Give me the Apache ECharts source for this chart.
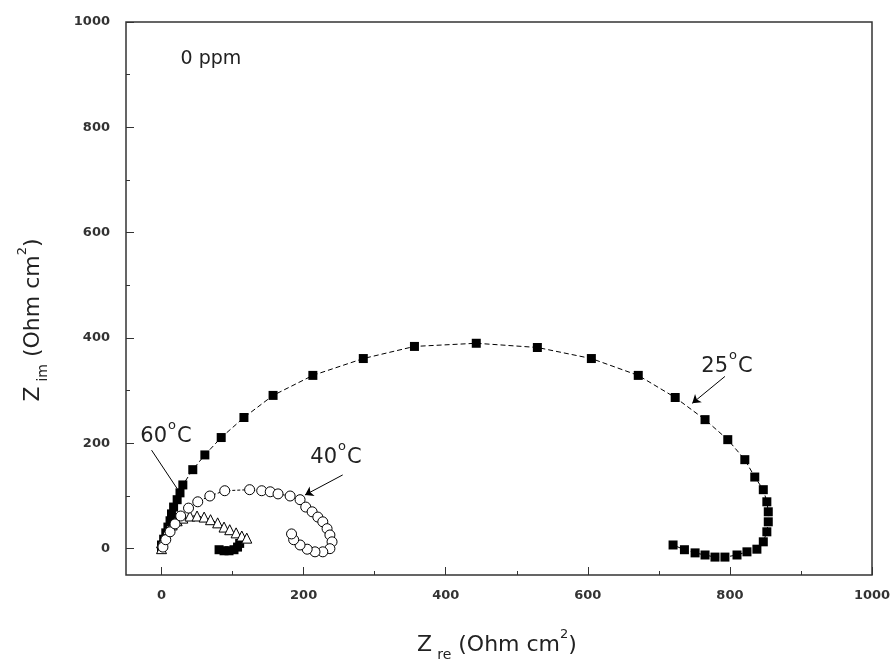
<!DOCTYPE html>
<html>
<head>
<meta charset="utf-8">
<script src="https://cdn.jsdelivr.net/npm/echarts@6/dist/echarts.min.js"></script>
<style>
  html, body { margin: 0; padding: 0; background: #fff; }
  #chart { width: 895px; height: 666px; }
</style>
</head>
<body>
<div id="chart"></div>
<script>
// ticks
const majorTicks = [0, 200, 400, 600, 800, 1000];
const minorTicks = [100, 300, 500, 700, 900];

// 25 C, filled squares
const sq25 = [[0,0],[0,7],[3,18],[6,30],[9,41],[12,53],[14,66],[17,79],[22,93],[26,106],[30,121],
  [44,150],[61,178],[84,211],[116,249],[157,291],[213,329],[284,361],[356,384],[443,390],[529,382],
  [605,361],[671,329],[723,287],[765,245],[797,207],[821,169],[835,136],[847,112],[852,89],[854,70],
  [854,51],[852,32],[847,13],[838,-1],[824,-6],[810,-12],[793,-16],[779,-16],[765,-12],[751,-8],
  [736,-2],[720,7]];
// small cluster of filled squares near 100
const sqLow = [[81,-2],[88,-4],[95,-4],[102,-2],[107,3],[110,10]];
// 40 C, open circles
const c40 = [[2,3],[6,17],[12,32],[19,47],[27,62],[38,77],[51,89],[68,100],[89,110],[124,112],
  [141,110],[153,108],[164,104],[181,100],[195,93],[203,79],[212,70],[220,60],[227,51],[233,38],
  [237,26],[240,13],[237,0],[227,-6],[216,-6],[205,-1],[195,7],[186,17],[183,28]];
// 60 C, open triangles
const t60 = [[0,0],[0,11],[5,24],[9,36],[15,45],[22,53],[30,58],[40,62],[50,62],[60,60],[69,55],
  [79,49],[88,41],[96,36],[105,30],[113,24],[120,20]];

// annotation pointers (data coords)
const arrows = [[[255,140],[202,102]], [[793,327],[747,276]]];
const pointer60 = [[-14,187],[22,114]];

const chart = echarts.init(document.getElementById('chart'));

const FONT = 'DejaVu Sans';
const big = { fontSize: 22, lineHeight: 34, fontFamily: FONT };
const sub = { fontSize: 14, lineHeight: 14, verticalAlign: 'bottom', fontFamily: FONT, padding: [0, 0, 0, 5] };
const sup = { fontSize: 13, lineHeight: 14, verticalAlign: 'top', fontFamily: FONT };
const ann = { fontSize: 21, lineHeight: 36, fontFamily: FONT };
const annSup = { fontSize: 13, lineHeight: 13, verticalAlign: 'top', fontFamily: FONT, padding: [0, 1, 0, 1] };

function tempLabel(t, x, y) {
  return {
    type: 'text', x: x, y: y,
    style: {
      text: '{a|' + t + '}{s|o}{a|C}',
      rich: { a: ann, s: annSup },
      fill: '#222', align: 'center', verticalAlign: 'middle'
    }
  };
}

const axisCommon = {
  type: 'value', min: -50, max: 1000,
  axisLine: { show: false, onZero: false },
  splitLine: { show: false }
};
const tickLabel = {
  customValues: majorTicks, fontSize: 13, fontWeight: 'bold', color: '#333', fontFamily: FONT,
  formatter: v => String(v)
};

const option = {
  animation: false,
  grid: { left: 126, right: 23, top: 22, bottom: 91, show: true, borderColor: '#333', borderWidth: 1.5 },
  xAxis: [
    Object.assign({}, axisCommon, {
      position: 'bottom',
      axisTick: { inside: true, length: 8, customValues: majorTicks, lineStyle: { color: '#333' } },
      axisLabel: Object.assign({ margin: 14 }, tickLabel)
    }),
    Object.assign({}, axisCommon, {
      position: 'bottom',
      axisTick: { inside: true, length: 4, customValues: minorTicks, lineStyle: { color: '#333' } },
      axisLabel: { show: false }
    })
  ],
  yAxis: [
    Object.assign({}, axisCommon, {
      position: 'left',
      axisTick: { inside: true, length: 8, customValues: majorTicks, lineStyle: { color: '#333' } },
      axisLabel: Object.assign({ margin: 16 }, tickLabel)
    }),
    Object.assign({}, axisCommon, {
      position: 'left',
      axisTick: { inside: true, length: 4, customValues: minorTicks, lineStyle: { color: '#333' } },
      axisLabel: { show: false }
    })
  ],
  series: [
    {
      name: '25°C', type: 'line', data: sq25, symbol: 'rect', symbolSize: 9,
      itemStyle: { color: '#000' },
      lineStyle: { color: '#000', width: 1, type: [5, 3] }
    },
    {
      name: 'low', type: 'line', data: sqLow, symbol: 'rect', symbolSize: 9,
      itemStyle: { color: '#000' },
      lineStyle: { color: '#000', width: 1, type: [5, 3] }
    },
    {
      name: '60°C', type: 'line', data: t60, symbol: 'triangle', symbolSize: 10,
      itemStyle: { color: '#fff', borderColor: '#000', borderWidth: 1 },
      lineStyle: { color: '#000', width: 1, type: [3, 2] }
    },
    {
      name: '40°C', type: 'line', data: c40, symbol: 'circle', symbolSize: 10,
      itemStyle: { color: '#fff', borderColor: '#000', borderWidth: 1 },
      lineStyle: { color: '#000', width: 1, type: [3, 2] }
    },
    {
      type: 'lines', coordinateSystem: 'cartesian2d',
      symbol: ['none', 'arrow'], symbolSize: 8,
      lineStyle: { color: '#000', width: 1, opacity: 1 },
      data: arrows.map(a => ({ coords: a })),
      z: 5
    },
    {
      type: 'lines', coordinateSystem: 'cartesian2d',
      symbol: 'none',
      lineStyle: { color: '#000', width: 1, opacity: 1 },
      data: [{ coords: pointer60 }],
      z: 5
    }
  ],
  graphic: [
    {
      type: 'text', x: 211, y: 59,
      style: { text: '0 ppm', font: '19px "DejaVu Sans"', fill: '#222', align: 'center', verticalAlign: 'middle' }
    },
    tempLabel('25', 727, 367),
    tempLabel('40', 336, 458),
    tempLabel('60', 166, 437),
    {
      type: 'text', x: 497, y: 645,
      style: {
        text: '{a|Z}{b|re}{a| (Ohm cm}{s|2}{a|)}',
        rich: { a: big, b: sub, s: sup },
        fill: '#222', align: 'center', verticalAlign: 'middle'
      }
    },
    {
      type: 'text', x: 33, y: 320, rotation: Math.PI / 2,
      style: {
        text: '{a|Z}{b|im}{a| (Ohm cm}{s|2}{a|)}',
        rich: { a: big, b: sub, s: sup },
        fill: '#222', align: 'center', verticalAlign: 'middle'
      }
    }
  ]
};

chart.setOption(option);
</script>
</body>
</html>
